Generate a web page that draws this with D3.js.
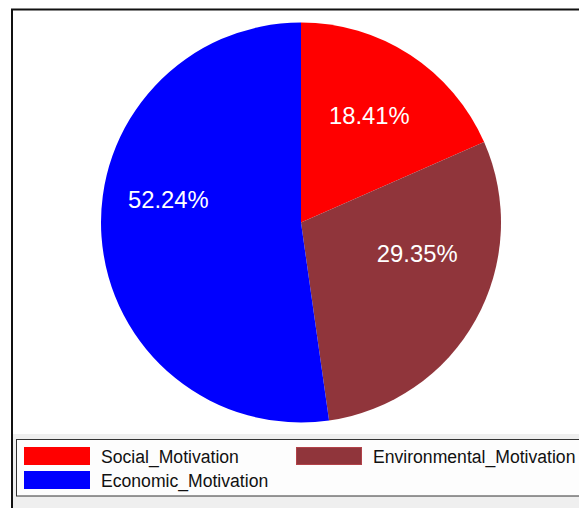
<!DOCTYPE html>
<html><head><meta charset="utf-8">
<script src="https://cdn.jsdelivr.net/npm/d3@7"></script>
<style>html,body{margin:0;padding:0;background:#fff;}svg{display:block;}</style>
</head><body>
<svg id="c" width="579" height="508"></svg>
<script>
const categories = ["Social_Motivation", "Environmental_Motivation", "Economic_Motivation"];
const values = [18.41, 29.35, 52.24];
const labels = ["18.41%", "29.35%", "52.24%"];
const colors = ["#ff0000", "#90353b", "#0000ff"];

const svg = d3.select("#c");
const W = 579, H = 508;
const font = "Arial, 'Liberation Sans', sans-serif";

// background regions
svg.append("rect").attr("x", 0).attr("y", 0).attr("width", W).attr("height", H).attr("fill", "#ffffff");
svg.append("rect").attr("x", 12).attr("y", 434).attr("width", W).attr("height", H).attr("fill", "#efefef");
// outer frame
svg.append("rect").attr("x", 12).attr("y", 9.5).attr("width", 700).attr("height", 700)
  .attr("fill", "none").attr("stroke", "#111").attr("stroke-width", 2);

// pie
const cx = 301, cy = 222.5, R = 200;
const pie = d3.pie().sort(null).value(d => d);
const arcs = pie(values);
const arc = d3.arc().innerRadius(0).outerRadius(R);
const labelArc = d3.arc().innerRadius(R * 0.625).outerRadius(R * 0.625);
const g = svg.append("g").attr("transform", `translate(${cx},${cy})`);
g.selectAll("path").data(arcs).join("path")
  .attr("d", arc).attr("fill", (d, i) => colors[i]);

// label placement nudges (layout only)
const nudge = [[0, -2], [7, -30], [-8, -32]];
g.selectAll("text").data(arcs).join("text")
  .attr("x", (d, i) => labelArc.centroid(d)[0] + nudge[i][0])
  .attr("y", (d, i) => labelArc.centroid(d)[1] + nudge[i][1])
  .attr("dy", "0.35em")
  .attr("text-anchor", "middle")
  .attr("fill", "#fff")
  .attr("font-family", font).attr("font-size", 23.8)
  .text((d, i) => labels[i]);

// legend
const lg = svg.append("g");
lg.append("rect").attr("x", 16.5).attr("y", 439.5).attr("width", 700).attr("height", 56.5)
  .attr("fill", "#fdfdfd").attr("stroke", "#333").attr("stroke-width", 1);
const legendPos = [[24, 447], [296, 447], [24, 471]];
categories.forEach((c, i) => {
  const [x, y] = legendPos[i];
  lg.append("rect").attr("x", x + 0.5).attr("y", y + 0.5).attr("width", 65).attr("height", 17)
    .attr("fill", colors[i]).attr("stroke", d3.color(colors[i]).brighter(0.6)).attr("stroke-width", 1);
  lg.append("text").attr("x", x + 77).attr("y", y + 16)
    .attr("font-family", font).attr("font-size", 17.6).attr("fill", "#111")
    .text(c);
});
</script>
</body></html>
